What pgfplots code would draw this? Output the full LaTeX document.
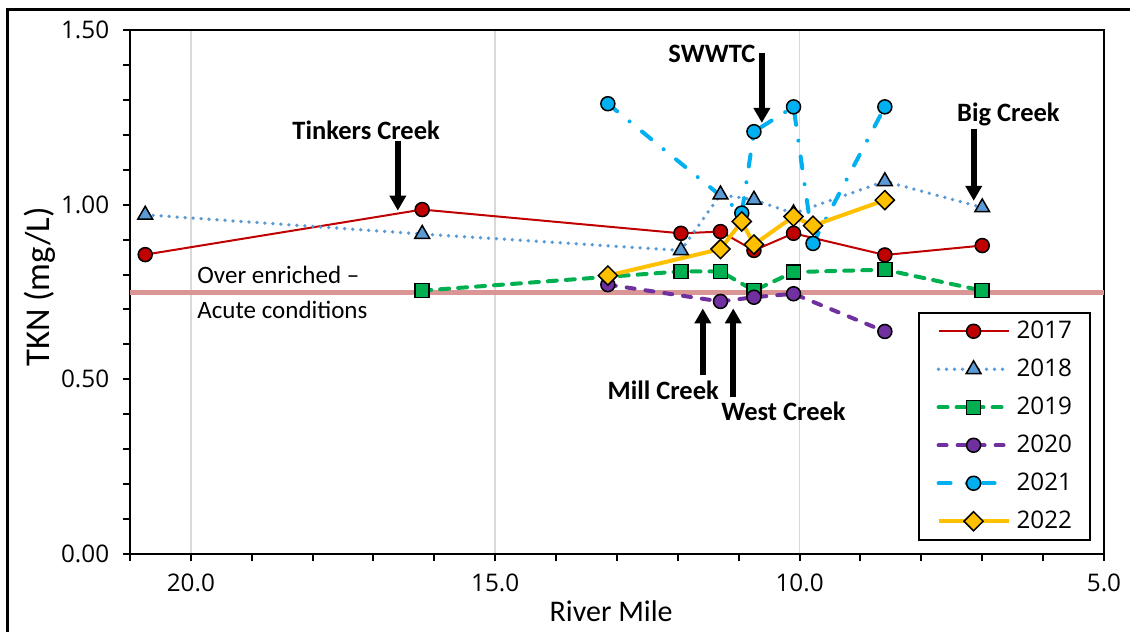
\documentclass[border=0pt]{standalone}
\usepackage{pgfplots}
\pgfplotsset{compat=1.18}
\usepackage{fontspec}
\setmainfont{Carlito}
\newfontfamily\tickfont{Open Sans}
\usetikzlibrary{arrows.meta}
\definecolor{c17}{HTML}{C00000}
\definecolor{c18}{HTML}{5B9BD5}
\definecolor{c19}{HTML}{00B050}
\definecolor{c20}{HTML}{7030A0}
\definecolor{c21}{HTML}{00B0F0}
\definecolor{c22}{HTML}{FFC000}
\definecolor{pinkline}{HTML}{D99694}
\definecolor{gridc}{HTML}{D9D9D9}
\begin{document}
\begin{tikzpicture}
\useasboundingbox (-52pt,-30.8pt) rectangle (400pt,221.6pt);
\draw[line width=1.2pt] (-48.8pt,-40pt) -- (-48.8pt,218pt) -- (410pt,218pt);
\begin{axis}[
  at={(0,0)}, anchor=south west,
  scale only axis, width=389.6pt, height=209.6pt,
  x dir=reverse, xmin=5, xmax=21, ymin=0, ymax=1.5,
  xtick={5,10,15,20}, minor xtick={6,7,8,9,11,12,13,14,16,17,18,19,21},
  ytick={0,0.5,1,1.5}, minor y tick num=4,
  tick align=outside, tick pos=left,
  major tick length=2.8pt, minor tick length=2.8pt,
  tick style={black, line width=0.8pt},
  axis line style={line width=0.8pt},
  xmajorgrids, grid style={gridc, line width=0.6pt},
  /pgf/number format/assume math mode=true,
  xticklabel style={yshift=-1.5pt, /pgf/number format/.cd, fixed, fixed zerofill, precision=1},
  yticklabel style={xshift=-2pt, /pgf/number format/.cd, fixed, fixed zerofill, precision=2},
  tick label style={font=\tickfont\fontsize{9.7}{12}\selectfont},
  xlabel={River Mile}, ylabel={TKN (mg/L)},
  xlabel style={font=\fontsize{12}{14}\selectfont, at={(axis description cs:0.494,0)}, anchor=center, yshift=-23pt},
  ylabel style={font=\fontsize{13.9}{16}\selectfont, at={(axis description cs:-0.0924,0.5095)}, anchor=center},
  legend style={at={(0.9867,0.0248)}, anchor=south east, draw=black, line width=0.8pt,
    font=\tickfont\fontsize{9.7}{12}\selectfont,
    nodes={inner sep=0pt, text height=7pt, text depth=1pt, anchor=west},
    row sep=7.2pt, column sep=2.4pt, inner xsep=7.2pt, inner ysep=3.5pt},
  legend cell align=left,
  legend image code/.code={\draw[mark repeat=2,mark phase=2] plot coordinates {(0pt,0pt) (14pt,0pt) (28pt,0pt)};},
]
\addplot[pinkline, line width=2pt, forget plot] coordinates {(21,0.75) (5,0.75)};

\addplot[c17, line width=0.8pt, mark=*, mark size=2.8pt, mark options={solid, draw=black, line width=0.6pt, fill=c17}] coordinates {
(20.75,0.857) (16.20,0.986) (11.95,0.918) (11.30,0.923) (10.75,0.869) (10.10,0.918) (8.60,0.856) (7.00,0.883)};
\addlegendentry{2017}

\addplot[c18, line width=1.5pt, line cap=round, dash pattern=on 0pt off 3.2pt, mark=triangle*, mark size=3.4pt, mark options={solid, draw=black, line width=0.6pt, fill=c18}] coordinates {
(20.75,0.971) (16.20,0.916) (11.95,0.869) (11.30,1.029) (10.75,1.014) (10.10,0.975) (8.60,1.067) (7.00,0.992)};
\addlegendentry{2018}

\addplot[c19, line width=1.6pt, line cap=round, dash pattern=on 3.6pt off 3.6pt, mark=square*, mark size=2.8pt, mark options={solid, draw=black, line width=0.6pt, fill=c19}] coordinates {
(16.20,0.754) (11.95,0.809) (11.30,0.809) (10.75,0.754) (10.10,0.807) (8.60,0.814) (7.00,0.754)};
\addlegendentry{2019}

\addplot[c20, line width=1.6pt, line cap=round, dash pattern=on 3.2pt off 4.4pt, mark=*, mark size=2.8pt, mark options={solid, draw=black, line width=0.6pt, fill=c20}] coordinates {
(13.15,0.771) (11.30,0.723) (10.75,0.735) (10.10,0.745) (8.60,0.637)};
\addlegendentry{2020}

\addplot[c21, line width=1.6pt, line cap=round, dash pattern=on 4.8pt off 6.4pt on 0pt off 6.4pt, mark=*, mark size=2.8pt, mark options={solid, draw=black, line width=0.6pt, fill=c21}] coordinates {
(13.15,1.289) (10.95,0.976) (10.75,1.209) (10.10,1.280) (9.78,0.889) (8.60,1.280)};
\addlegendentry{2021}

\addplot[c22, line width=1.6pt, mark=square*, mark size=2.7pt, mark options={solid, draw=black, line width=0.6pt, fill=c22, rotate=45}] coordinates {
(13.15,0.797) (11.30,0.873) (10.95,0.952) (10.75,0.886) (10.10,0.966) (9.78,0.940) (8.60,1.013)};
\addlegendentry{2022}

% annotations
\tikzset{ann/.style={font=\fontsize{10.6}{12}\selectfont\bfseries, inner sep=0pt},
  arr/.style={line width=2.4pt, -{Triangle[width=6.4pt,length=6pt]}}}
\node[ann] at (axis cs:17.12,1.214) {Tinkers Creek};
\draw[arr] (axis cs:16.60,1.183) -- (axis cs:16.60,0.983);
\node[ann] at (axis cs:11.44,1.431) {SWWTC};
\draw[arr] (axis cs:10.62,1.434) -- (axis cs:10.62,1.234);
\node[ann] at (axis cs:6.57,1.257) {Big Creek};
\draw[arr] (axis cs:7.14,1.217) -- (axis cs:7.14,1.011);
\node[ann] at (axis cs:12.24,0.469) {Mill Creek};
\draw[arr] (axis cs:11.59,0.511) -- (axis cs:11.59,0.703);
\node[ann] at (axis cs:10.265,0.409) {West Creek};
\draw[arr] (axis cs:11.09,0.449) -- (axis cs:11.09,0.703);
\node[anchor=west, inner sep=0pt, font=\fontsize{10}{12}\selectfont] at (axis cs:19.90,0.800) {Over enriched –};
\node[anchor=west, inner sep=0pt, font=\fontsize{10}{12}\selectfont] at (axis cs:19.90,0.700) {Acute conditions};
\end{axis}
\end{tikzpicture}
\end{document}
